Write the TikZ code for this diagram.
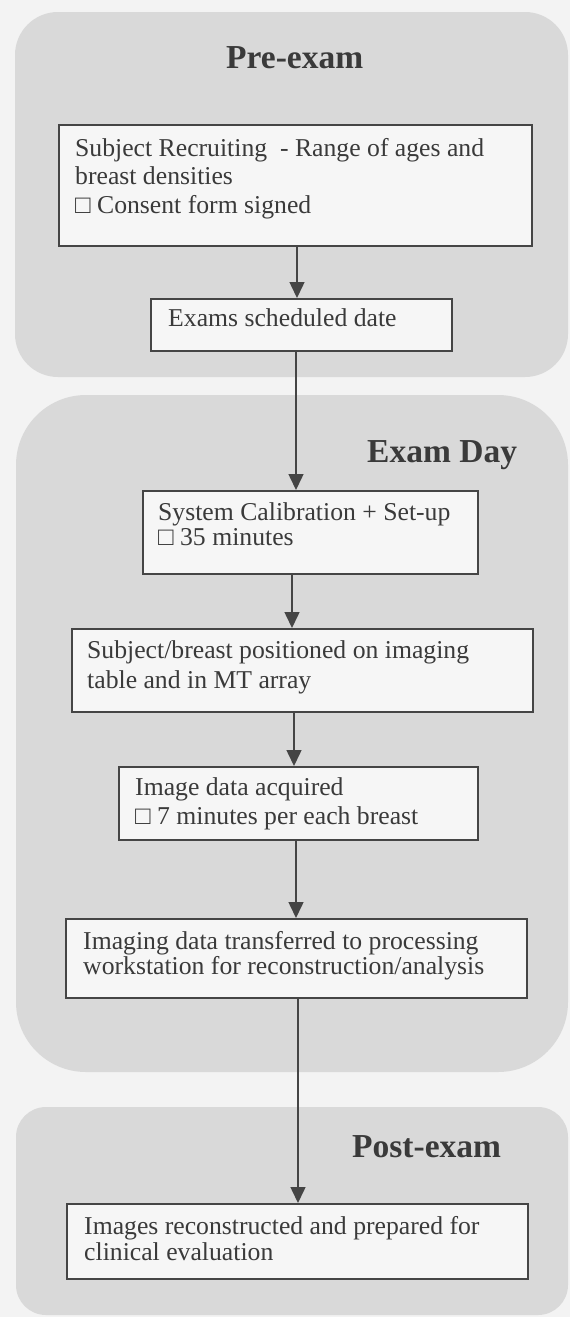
\documentclass[tikz,border=0pt]{standalone}
\usepackage{fontspec}
\setmainfont{Liberation Serif}
\usetikzlibrary{arrows.meta}
\definecolor{bgcol}{HTML}{F3F3F3}
\definecolor{panelcol}{HTML}{D9D9D9}
\definecolor{boxfill}{HTML}{F6F6F6}
\definecolor{linecol}{HTML}{454545}
\definecolor{textcol}{HTML}{3A3A3A}
\tikzset{
  panel/.style={fill=panelcol},
  stepbox/.style={draw=linecol, line width=1.6pt, fill=boxfill, rectangle, inner sep=0pt, anchor=north west},
  boxtext/.style={anchor=base west, inner sep=0pt, text=textcol, font=\fontsize{25.7}{29}\selectfont},
  titletext/.style={anchor=base west, inner sep=0pt, text=textcol, font=\fontsize{33.5}{36}\selectfont\bfseries},
  flow/.style={draw=linecol, line width=1.5pt, -{Triangle[length=16pt,width=15pt]}}
}
\begin{document}
\begin{tikzpicture}[x=1pt,y=-1pt]
\useasboundingbox (0,0) rectangle (570,1317);
\fill[bgcol] (0,0) rectangle (570,1317);
% panels
\fill[panel, rounded corners=43pt] (15,12) rectangle (568,377);
\fill[panel, rounded corners=70pt] (16,395) rectangle (568,1072);
\fill[panel, rounded corners=30pt] (16,1107) rectangle (568,1315);
% titles
\node[titletext] (t1) at (226,68) {Pre-exam};
\node[titletext] (t2) at (367,462) {Exam Day};
\node[titletext] (t3) at (352,1157) {Post-exam};
% boxes
\node[stepbox, minimum width=473, minimum height=121] (a) at (58,124) {};
\node[boxtext] (at) at (75,156) {\vtop{\baselineskip=28.5pt\hbox{Subject Recruiting\ \ - Range of ages and}\hbox{breast densities}\hbox{□ Consent form signed}}};
\node[stepbox, minimum width=301, minimum height=52] (b) at (150,298) {};
\node[boxtext] (bt) at (168,326) {Exams scheduled date};
\node[stepbox, minimum width=335, minimum height=83] (c) at (142,490) {};
\node[boxtext] (ct) at (158,520) {\vtop{\baselineskip=25pt\hbox{System Calibration + Set-up}\hbox{□ 35 minutes}}};
\node[stepbox, minimum width=461, minimum height=83] (d) at (71,628) {};
\node[boxtext] (dt) at (87,658) {\vtop{\baselineskip=30pt\hbox{Subject/breast positioned on imaging}\hbox{table and in MT array}}};
\node[stepbox, minimum width=359, minimum height=73] (e) at (118,766) {};
\node[boxtext] (et) at (135,795) {\vtop{\baselineskip=29pt\hbox{Image data acquired}\hbox{□ 7 minutes per each breast}}};
\node[stepbox, minimum width=461, minimum height=79] (f) at (65,918) {};
\node[boxtext] (ft) at (83,949) {\vtop{\baselineskip=25pt\hbox{Imaging data transferred to processing}\hbox{workstation for reconstruction/analysis}}};
\node[stepbox, minimum width=461, minimum height=75] (g) at (66,1203) {};
\node[boxtext] (gt) at (84,1234) {\vtop{\baselineskip=26pt\hbox{Images reconstructed and prepared for}\hbox{clinical evaluation}}};
% connectors
\draw[flow] (a.south -| 297,0) -- (b.north -| 297,0);
\draw[flow] (b.south -| 296,0) -- (c.north -| 296,0);
\draw[flow] (c.south -| 292,0) -- (d.north -| 292,0);
\draw[flow] (d.south -| 294,0) -- (e.north -| 294,0);
\draw[flow] (e.south -| 296,0) -- (f.north -| 296,0);
\draw[flow] (f.south -| 298,0) -- (g.north -| 298,0);
\end{tikzpicture}
\end{document}
